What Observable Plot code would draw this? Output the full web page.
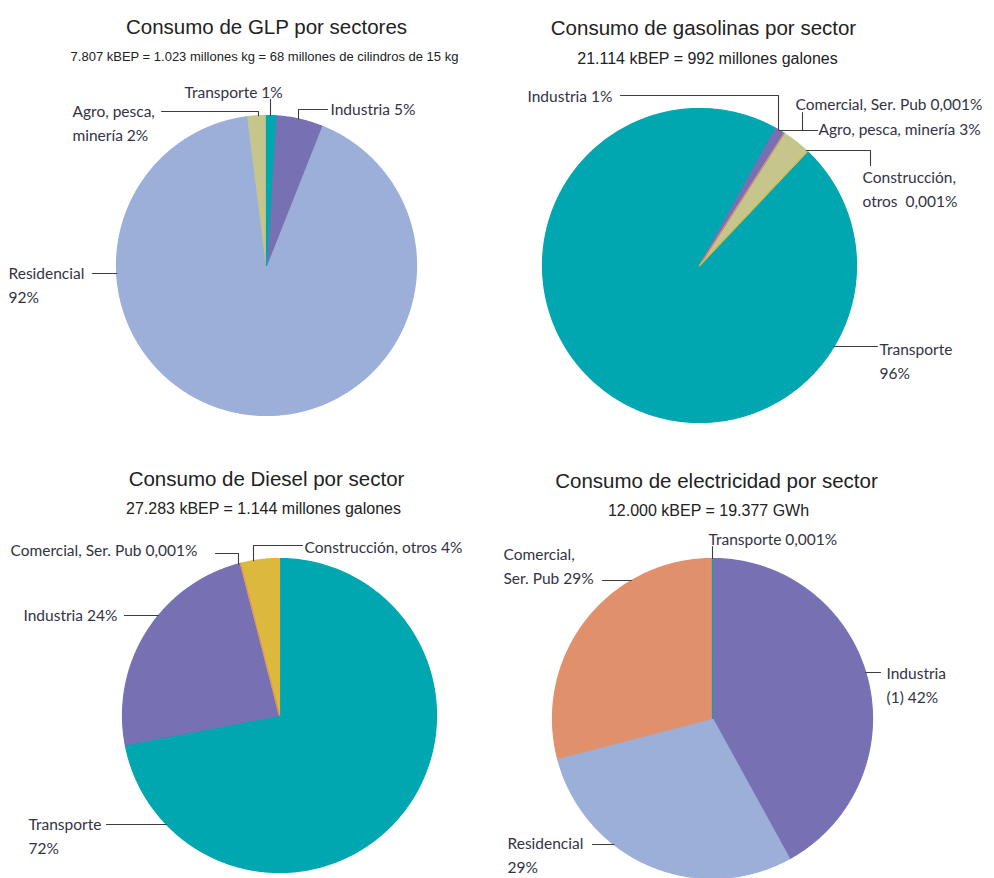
<!DOCTYPE html>
<html>
<head>
<meta charset="utf-8">
<script src="https://cdn.jsdelivr.net/npm/d3@7"></script>
<script src="https://cdn.jsdelivr.net/npm/@observablehq/plot@0.6"></script>
<style>
  html, body { margin: 0; padding: 0; background: #fff; }
  #chart svg { display: block; }
</style>
</head>
<body>
<div id="chart"></div>
<script>
// ---------------- DATA ----------------
const glpTitle = "Consumo de GLP por sectores";
const glpSubtitle = "7.807 kBEP = 1.023 millones kg = 68 millones de cilindros de 15 kg";
const glpSectors = ["Transporte", "Industria", "Residencial", "Agro, pesca, minería"];
const glpShares = [1, 5, 92, 2];
const glpLabels = ["Transporte 1%", "Industria 5%", "Residencial\n92%", "Agro, pesca,\nminería 2%"];

const gasTitle = "Consumo de gasolinas por sector";
const gasSubtitle = "21.114 kBEP = 992 millones galones";
const gasSectors = ["Industria", "Comercial, Ser. Pub", "Agro, pesca, minería", "Construcción, otros", "Transporte"];
const gasShares = [1, 0.001, 3, 0.001, 96];
const gasLabels = ["Industria 1%", "Comercial, Ser. Pub 0,001%", "Agro, pesca, minería 3%", "Construcción,\notros  0,001%", "Transporte\n96%"];

const dieselTitle = "Consumo de Diesel por sector";
const dieselSubtitle = "27.283 kBEP = 1.144 millones galones";
const dieselSectors = ["Transporte", "Industria", "Comercial, Ser. Pub", "Construcción, otros"];
const dieselShares = [72, 24, 0.001, 4];
const dieselLabels = ["Transporte\n72%", "Industria 24%", "Comercial, Ser. Pub 0,001%", "Construcción, otros 4%"];

const elecTitle = "Consumo de electricidad por sector";
const elecSubtitle = "12.000 kBEP = 19.377 GWh";
const elecSectors = ["Industria", "Residencial", "Comercial, Ser. Pub", "Transporte"];
const elecShares = [42, 29, 29, 0.001];
const elecLabels = ["Industria\n(1) 42%", "Residencial\n29%", "Comercial,\nSer. Pub 29%", "Transporte 0,001%"];

// ---------------- STYLE / LAYOUT ----------------
const sectorColors = {
  "Residencial": "#9cafd9",
  "Industria": "#7771b4",
  "Transporte": "#00a7b0",
  "Agro, pesca, minería": "#c6c68c",
  "Comercial, Ser. Pub": "#e0916b",
  "Construcción, otros": "#dcb83c"
};

const W = 994, H = 878;
const labelSize = 15.5, lineH = 24;

const charts = [
  { title: glpTitle, subtitle: glpSubtitle, sectors: glpSectors, shares: glpShares, labels: glpLabels,
    cx: 266, cy: 265, r: 150, start: 0,
    tx: 266, ty: 35, sx: 264, sy: 61, subSize: 13,
    lab: [
      { x: 184, y: 90,  leader: [[270, 99]], rim: "v" },
      { x: 330, y: 107, leader: [[327, 109], [298, 109]], rim: "v" },
      { x: 8,   y: 271, leader: [[92, 273]], rim: "hl" },
      { x: 72,  y: 109, leader: [[161, 111], [258, 111]], rim: "v" }
    ] },
  { title: gasTitle, subtitle: gasSubtitle, sectors: gasSectors, shares: gasShares, labels: gasLabels,
    cx: 699, cy: 265, r: 157, start: 29,
    tx: 703, ty: 36, sx: 707, sy: 63, subSize: 16,
    lab: [
      { x: 527, y: 94,  leader: [[620, 95], [778, 95]], rim: "v" },
      { x: 795, y: 102, leader: [[802, 112], [802, 130]], rim: "hr" },
      { x: 818, y: 127, leader: [[817, 130]], rim: "hr" },
      { x: 862, y: 175, leader: [[870, 165], [870, 150]], rim: "hr" },
      { x: 879, y: 347, leader: [[877, 346]], rim: "hr" }
    ] },
  { title: dieselTitle, subtitle: dieselSubtitle, sectors: dieselSectors, shares: dieselShares, labels: dieselLabels,
    cx: 279, cy: 715, r: 157, start: 0,
    tx: 266, ty: 487, sx: 263, sy: 513, subSize: 16,
    lab: [
      { x: 28,  y: 822, leader: [[106, 824]], rim: "hl" },
      { x: 23,  y: 613, leader: [[124, 615]], rim: "hl" },
      { x: 10,  y: 548, leader: [[215, 553], [238, 553]], rim: "v" },
      { x: 304, y: 545, leader: [[302, 545], [253, 545]], rim: "v" }
    ] },
  { title: elecTitle, subtitle: elecSubtitle, sectors: elecSectors, shares: elecShares, labels: elecLabels,
    cx: 712, cy: 718, r: 160, start: 0,
    tx: 716, ty: 489, sx: 708, sy: 515, subSize: 16,
    lab: [
      { x: 886, y: 671, leader: [[880, 672]], rim: "hr" },
      { x: 507, y: 841, leader: [[592, 844]], rim: "hl" },
      { x: 503, y: 552, leader: [[602, 580]], rim: "hl" },
      { x: 708, y: 537, leader: [[712, 546]], rim: "v" }
    ] }
];

// ---------------- GEOMETRY FROM DATA ----------------
const wedgePts = [];
const leaderPts = [];
const labelRows = [];
const titleRows = [];

charts.forEach((c, ci) => {
  const rows = c.sectors.map((s, i) => ({ sector: s, share: c.shares[i] }));
  const start = c.start * Math.PI / 180;
  const arcs = d3.pie().sort(null).value(d => d.share).startAngle(start).endAngle(start + 2 * Math.PI)(rows);
  // draw tiny slices last so they stay visible
  const ordered = arcs.slice().sort((a, b) => b.data.share - a.data.share);
  ordered.forEach((a, k) => {
    const id = `${ci}-${k}`;
    const color = sectorColors[a.data.sector];
    const n = Math.max(2, Math.ceil((a.endAngle - a.startAngle) / 0.01));
    wedgePts.push({ id, x: c.cx, y: c.cy, color });
    for (let j = 0; j <= n; j++) {
      const t = a.startAngle + (a.endAngle - a.startAngle) * j / n;
      wedgePts.push({ id, x: c.cx + c.r * Math.sin(t), y: c.cy - c.r * Math.cos(t), color });
    }
    wedgePts.push({ id, x: c.cx, y: c.cy, color });
  });
  c.lab.forEach((L, li) => {
    const text = c.labels[li];
    const nLines = text.split("\n").length;
    labelRows.push({ x: L.x, y: L.y + (nLines - 1) * lineH / 2, text });
    const id = `L${ci}-${li}`;
    L.leader.forEach(p => leaderPts.push({ id, x: p[0], y: p[1] }));
    const last = L.leader[L.leader.length - 1];
    let end;
    if (L.rim === "v") {
      end = [last[0], c.cy - Math.sqrt(c.r * c.r - (last[0] - c.cx) ** 2)];
    } else {
      const dx = Math.sqrt(c.r * c.r - (last[1] - c.cy) ** 2);
      end = [L.rim === "hl" ? c.cx - dx : c.cx + dx, last[1]];
    }
    leaderPts.push({ id, x: end[0], y: end[1] });
  });
  titleRows.push({ x: c.tx, y: c.ty, text: c.title, size: 20.5 });
  titleRows.push({ x: c.sx, y: c.sy, text: c.subtitle, size: c.subSize });
});

const titleMain = titleRows.filter(d => d.size > 18);
const titleSub13 = titleRows.filter(d => d.size === 13);
const titleSub16 = titleRows.filter(d => d.size === 16);

const plot = Plot.plot({
  width: W,
  height: H,
  margin: 0,
  x: { domain: [0, W], range: [0, W], axis: null },
  y: { domain: [0, H], range: [0, H], axis: null },
  color: { type: "identity" },
  style: { background: "#fff" },
  marks: [
    Plot.line(wedgePts, { x: "x", y: "y", z: "id", fill: "color", stroke: "color", strokeWidth: 1.2, curve: "linear" }),
    Plot.line(leaderPts, { x: "x", y: "y", z: "id", stroke: "#3c3c3c", strokeWidth: 1.1, fill: "none" }),
    Plot.text(labelRows, { x: "x", y: "y", text: "text", textAnchor: "start", lineAnchor: "middle", lineHeight: lineH / labelSize,
      fontSize: labelSize, fontFamily: "Lato, 'Open Sans', sans-serif", fill: "#333344" }),
    Plot.text(titleMain, { x: "x", y: "y", text: "text", textAnchor: "middle", lineAnchor: "bottom", dy: -2,
      fontSize: 20.5, fontFamily: "'Liberation Sans', Arial, sans-serif", fill: "#222" }),
    Plot.text(titleSub13, { x: "x", y: "y", text: "text", textAnchor: "middle", lineAnchor: "bottom", dy: -1,
      fontSize: 13, fontFamily: "'Liberation Sans', Arial, sans-serif", fill: "#222" }),
    Plot.text(titleSub16, { x: "x", y: "y", text: "text", textAnchor: "middle", lineAnchor: "bottom", dy: 0,
      fontSize: 16, fontFamily: "'Liberation Sans', Arial, sans-serif", fill: "#222" })
  ]
});
document.getElementById("chart").appendChild(plot);
</script>
</body>
</html>
